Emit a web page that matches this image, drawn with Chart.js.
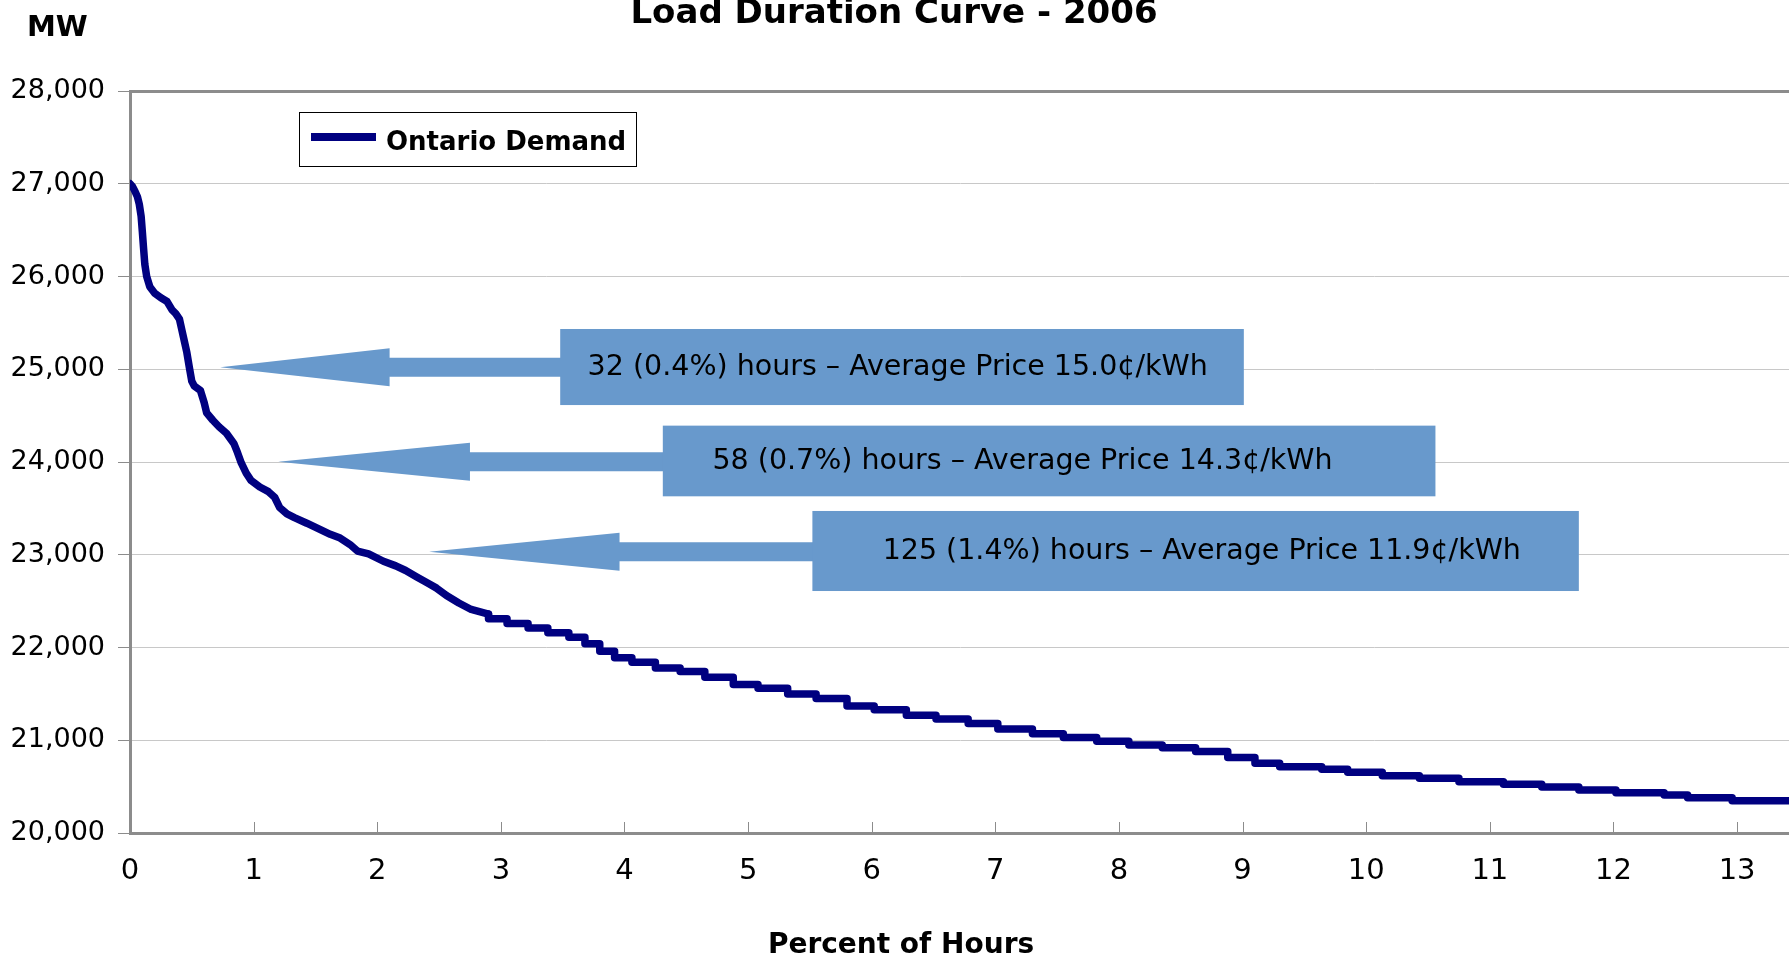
<!DOCTYPE html>
<html>
<head>
<meta charset="utf-8">
<script src="https://cdn.jsdelivr.net/npm/chart.js@4.4.1/dist/chart.umd.min.js"></script>
<style>
  html, body { margin: 0; padding: 0; background: #fff; }
  #wrap { width: 1789px; height: 956px; position: relative; }
</style>
</head>
<body>
<div id="wrap"><canvas id="ldc"></canvas></div>
<script>
// percent of hours (x) and demand in MW (y)
// steep head of the curve
const headPct = [
  0, 0.02, 0.04, 0.06, 0.075, 0.09, 0.10, 0.11, 0.12, 0.135, 0.16, 0.20, 0.25, 0.30,
  0.34, 0.37, 0.40, 0.42, 0.44, 0.46, 0.48, 0.50, 0.52, 0.57, 0.60, 0.62, 0.67, 0.72,
  0.78, 0.84, 0.87, 0.90, 0.94, 0.98, 1.05, 1.12, 1.17, 1.21, 1.27, 1.33, 1.43, 1.54,
  1.62, 1.70, 1.78, 1.84, 1.93, 2.05, 2.15, 2.23, 2.32, 2.40, 2.48, 2.56, 2.66, 2.76,
  2.90
];
const headMW = [
  27000, 26970, 26920, 26860, 26780, 26650, 26480, 26300, 26130, 26000, 25890, 25820, 25770, 25730,
  25640, 25600, 25540, 25420, 25300, 25180, 25020, 24870, 24820, 24770, 24640, 24530, 24450, 24380,
  24310, 24200, 24100, 23990, 23880, 23800, 23730, 23680, 23620, 23510, 23440, 23400, 23340, 23270,
  23220, 23180, 23110, 23040, 23010, 22930, 22880, 22830, 22760, 22700, 22640, 22560, 22480, 22410,
  22360
];
// flatter tail, drawn as steps
const tailPct = [
  2.90, 3.05, 3.22, 3.38, 3.55, 3.68, 3.80, 3.92, 4.06, 4.25, 4.45, 4.65, 4.88,
  5.08, 5.32, 5.55, 5.80, 6.02, 6.28, 6.52, 6.78, 7.02, 7.30, 7.55, 7.82, 8.08, 8.35, 8.62, 8.88,
  9.10, 9.30, 9.64, 9.85, 10.13, 10.43, 10.75, 11.11, 11.42, 11.72, 12.02, 12.41, 12.60, 12.96,
  13.31, 13.45
];
const tailMW = [
  22360, 22310, 22260, 22210, 22160, 22110, 22040, 21960, 21890, 21840, 21780, 21740, 21680,
  21600, 21560, 21500, 21450, 21370, 21330, 21270, 21230, 21180, 21120, 21070, 21030, 20990, 20950, 20920, 20880,
  20815, 20751, 20715, 20687, 20654, 20618, 20590, 20553, 20525, 20496, 20464, 20434, 20409, 20380,
  20348, 20348
];
const xTickValues = [0, 1, 2, 3, 4, 5, 6, 7, 8, 9, 10, 11, 12, 13];
const seriesName = 'Ontario Demand';
const chartTitle = 'Load Duration Curve - 2006';
const yAxisTitle = 'MW';
const xAxisTitle = 'Percent of Hours';

// callout arrows, placed in data units (percent, MW)
const callouts = [
  { text: '32 (0.4%) hours \u2013 Average Price 15.0\u00a2/kWh', tip: [0.73, 25021], head: 2.10, box: [3.48, 9.01, 25434, 24614], textX: 6.21 },
  { text: '58 (0.7%) hours \u2013 Average Price 14.3\u00a2/kWh', tip: [1.20, 24003], head: 2.75, box: [4.31, 10.56, 24392, 23630], textX: 7.22 },
  { text: '125 (1.4%) hours \u2013 Average Price 11.9\u00a2/kWh', tip: [2.42, 23033], head: 3.96, box: [5.52, 11.72, 23472, 22609], textX: 8.67 }
];

const axisGrey = '#8c8c8c';
const calloutBlue = '#6899cc';
const lineNavy = '#000080';

const decorations = {
  id: 'decorations',
  beforeDatasetsDraw(chart) {
    // small inward tick marks on the x axis
    const { ctx, chartArea, scales: { x } } = chart;
    ctx.save();
    ctx.strokeStyle = axisGrey;
    ctx.lineWidth = 1;
    x.ticks.forEach(t => {
      if (t.value === 0) return;
      const px = Math.round(x.getPixelForValue(t.value)) + 0.5;
      ctx.beginPath();
      ctx.moveTo(px, chartArea.bottom);
      ctx.lineTo(px, chartArea.bottom - 11);
      ctx.stroke();
    });
    ctx.restore();
  },
  afterDraw(chart) {
    const { ctx, scales: { x, y } } = chart;
    ctx.save();

    // callouts
    callouts.forEach(c => {
      const tx = x.getPixelForValue(c.tip[0]);
      const ty = y.getPixelForValue(c.tip[1]);
      const hx = x.getPixelForValue(c.head);
      const bx0 = x.getPixelForValue(c.box[0]);
      const bx1 = x.getPixelForValue(c.box[1]);
      const by0 = y.getPixelForValue(c.box[2]);
      const by1 = y.getPixelForValue(c.box[3]);
      ctx.fillStyle = calloutBlue;
      ctx.beginPath();
      ctx.moveTo(tx, ty);
      ctx.lineTo(hx, ty - 19);
      ctx.lineTo(hx, ty - 9.5);
      ctx.lineTo(bx0 + 1, ty - 9.5);
      ctx.lineTo(bx0 + 1, ty + 9.5);
      ctx.lineTo(hx, ty + 9.5);
      ctx.lineTo(hx, ty + 19);
      ctx.closePath();
      ctx.fill();
      ctx.fillRect(bx0, by0, bx1 - bx0, by1 - by0);
      ctx.fillStyle = '#000';
      ctx.font = '28.5px "DejaVu Sans"';
      ctx.textAlign = 'center';
      ctx.textBaseline = 'middle';
      ctx.fillText(c.text, x.getPixelForValue(c.textX), (by0 + by1) / 2 + 1);
    });

    // legend box
    const ds = chart.data.datasets[0];
    ctx.fillStyle = '#fff';
    ctx.fillRect(299, 112, 338, 55);
    ctx.strokeStyle = '#000';
    ctx.lineWidth = 1;
    ctx.strokeRect(299.5, 112.5, 337, 54);
    ctx.strokeStyle = ds.borderColor;
    ctx.lineWidth = 8;
    ctx.beginPath();
    ctx.moveTo(311, 137);
    ctx.lineTo(376, 137);
    ctx.stroke();
    ctx.fillStyle = '#000';
    ctx.font = 'bold 26px "DejaVu Sans"';
    ctx.textAlign = 'left';
    ctx.textBaseline = 'alphabetic';
    ctx.fillText(ds.label, 386, 150);

    // titles
    ctx.font = 'bold 34px "DejaVu Sans"';
    ctx.textAlign = 'center';
    ctx.fillText(chartTitle, 894, 23);
    ctx.font = 'bold 29px "DejaVu Sans"';
    ctx.textAlign = 'left';
    ctx.fillText(yAxisTitle, 27, 36);
    ctx.font = 'bold 28px "DejaVu Sans"';
    ctx.textAlign = 'center';
    ctx.fillText(xAxisTitle, 901, 953);
    ctx.restore();
  }
};

const lineStyle = {
  borderColor: lineNavy,
  borderWidth: 7.5,
  pointRadius: 0,
  borderJoinStyle: 'round',
  borderCapStyle: 'round',
  fill: false
};

new Chart(document.getElementById('ldc'), {
  type: 'line',
  data: {
    datasets: [
      Object.assign({
        label: seriesName,
        data: headPct.map((p, i) => ({ x: p, y: headMW[i] }))
      }, lineStyle),
      Object.assign({
        label: seriesName,
        data: tailPct.map((p, i) => ({ x: p, y: tailMW[i] })),
        stepped: 'after'
      }, lineStyle)
    ]
  },
  options: {
    responsive: true,
    maintainAspectRatio: false,
    animation: false,
    layout: { padding: { top: 91, left: 0, right: 0, bottom: 0 } },
    plugins: {
      legend: { display: false },
      tooltip: { enabled: false },
      title: { display: false }
    },
    scales: {
      x: {
        type: 'linear',
        min: 0,
        max: 13.42,
        afterBuildTicks: scale => {
          scale.ticks = xTickValues.map(v => ({ value: v }));
        },
        afterFit: scale => { scale.height = 123; },
        ticks: {
          padding: 21,
          color: '#000',
          font: { family: 'DejaVu Sans', size: 29 },
          maxRotation: 0,
          autoSkip: false
        },
        grid: { drawOnChartArea: false, drawTicks: false },
        border: { color: axisGrey, width: 3 }
      },
      y: {
        min: 20000,
        max: 28000,
        afterFit: scale => { scale.width = 130; },
        ticks: {
          stepSize: 1000,
          padding: 13,
          color: '#000',
          font: { family: 'DejaVu Sans', size: 27 },
          callback: v => v.toLocaleString('en-US')
        },
        grid: {
          color: c => (c.tick && c.tick.value === 28000 ? axisGrey : '#c8c8c8'),
          lineWidth: c => (c.tick && c.tick.value === 28000 ? 3 : 1),
          tickLength: 12,
          tickColor: axisGrey,
          tickWidth: 1
        },
        border: { color: axisGrey, width: 3 }
      }
    }
  },
  plugins: [decorations]
});
</script>
</body>
</html>
